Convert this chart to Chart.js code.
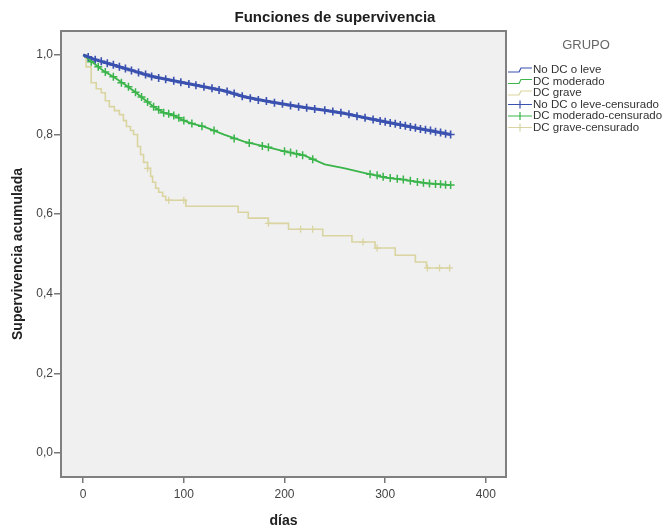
<!DOCTYPE html>
<html lang="es">
<head>
<meta charset="UTF-8">
<title>Funciones de supervivencia</title>
<script src="https://cdn.jsdelivr.net/npm/chart.js"></script>
<style>
  html, body { margin: 0; padding: 0; background: #fff; }
  #marco { width: 668px; height: 531px; position: relative; }
</style>
</head>
<body>
<div id="marco"><canvas id="grafico"></canvas></div>

<script>
// Curvas de Kaplan-Meier (dias, supervivencia acumulada)
const grupos = ['No DC o leve', 'DC moderado', 'DC grave'];

const tiempoLeve = [0, 10, 20, 30, 40, 50, 60, 70, 80, 90, 100, 120, 140, 160, 180, 200, 220, 240, 260, 280, 300, 320, 340, 365];
const survLeve   = [1.0, 0.99, 0.982, 0.975, 0.967, 0.96, 0.952, 0.945, 0.94, 0.935, 0.93, 0.92, 0.91, 0.895, 0.885, 0.876, 0.868, 0.861, 0.853, 0.842, 0.832, 0.822, 0.812, 0.80];

const tiempoModerado = [0, 10, 20, 30, 40, 50, 60, 70, 80, 90, 100, 110, 120, 140, 160, 180, 200, 220, 240, 260, 280, 300, 320, 340, 365];
const survModerado   = [1.0, 0.98, 0.96, 0.945, 0.928, 0.91, 0.89, 0.87, 0.855, 0.848, 0.835, 0.826, 0.82, 0.80, 0.782, 0.77, 0.758, 0.747, 0.725, 0.715, 0.703, 0.692, 0.686, 0.678, 0.673];

const tiempoGrave = [0, 3, 8, 13, 18, 22, 26, 31, 36, 40, 43, 47, 50, 54, 57, 60, 64, 67, 69, 72, 75, 79, 82, 102, 154, 164, 184, 204, 238, 267, 290, 310, 330, 341, 365];
const survGrave   = [1.0, 0.97, 0.93, 0.915, 0.905, 0.885, 0.87, 0.86, 0.85, 0.835, 0.82, 0.81, 0.80, 0.77, 0.75, 0.73, 0.715, 0.695, 0.68, 0.665, 0.655, 0.645, 0.635, 0.62, 0.605, 0.59, 0.577, 0.562, 0.546, 0.53, 0.515, 0.497, 0.48, 0.465, 0.465];

// Casos censurados (+)
const censLeveT = [5, 12, 18, 24, 30, 36, 42, 48, 55, 62, 68, 75, 82, 90, 97, 105, 112, 120, 128, 135, 143, 150, 158, 166, 174, 182, 190, 198, 206, 214, 222, 230, 240, 248, 256, 264, 272, 280, 288, 295, 300, 305, 310, 315, 320, 325, 330, 335, 340, 345, 350, 355, 360, 365];
const censLeveS = [0.995, 0.988, 0.984, 0.979, 0.975, 0.97, 0.966, 0.961, 0.956, 0.951, 0.946, 0.942, 0.939, 0.935, 0.931, 0.927, 0.924, 0.92, 0.916, 0.912, 0.908, 0.903, 0.896, 0.891, 0.887, 0.884, 0.88, 0.877, 0.873, 0.87, 0.867, 0.864, 0.861, 0.858, 0.855, 0.851, 0.846, 0.842, 0.838, 0.834, 0.832, 0.829, 0.827, 0.824, 0.822, 0.819, 0.817, 0.814, 0.812, 0.81, 0.807, 0.805, 0.802, 0.80];

const censModeradoT = [8, 15, 22, 30, 38, 45, 52, 58, 64, 70, 75, 80, 85, 90, 95, 100, 108, 118, 130, 150, 165, 178, 184, 200, 206, 212, 218, 228, 285, 292, 298, 305, 312, 318, 325, 332, 338, 344, 350, 355, 360, 365];
const censModeradoS = [0.983, 0.97, 0.957, 0.945, 0.93, 0.92, 0.906, 0.894, 0.882, 0.87, 0.862, 0.855, 0.852, 0.848, 0.842, 0.835, 0.828, 0.821, 0.81, 0.79, 0.779, 0.771, 0.768, 0.758, 0.755, 0.752, 0.748, 0.738, 0.70, 0.698, 0.694, 0.691, 0.689, 0.687, 0.684, 0.681, 0.679, 0.677, 0.676, 0.675, 0.674, 0.673];

const censGraveT = [64, 85, 100, 184, 216, 228, 278, 292, 342, 354, 364];
const censGraveS = [0.715, 0.635, 0.635, 0.577, 0.562, 0.562, 0.53, 0.515, 0.465, 0.465, 0.465];

const ticksX = [0, 100, 200, 300, 400];
const ticksY = [0, 0.2, 0.4, 0.6, 0.8, 1.0];

const colores = ['#3a51b0', '#3bb54b', '#d9d4a0'];

function puntos(ts, ss) {
    return ts.map(function (t, i) { return { x: t, y: ss[i] }; });
}

const fuente = '"Liberation Sans", Arial, sans-serif';

// fondo gris del area de trazado y marco
const fondoMarco = {
    id: 'fondoMarco',
    beforeDraw(chart) {
        const { ctx, chartArea: a } = chart;
        ctx.save();
        ctx.fillStyle = '#ffffff';
        ctx.fillRect(0, 0, chart.width, chart.height);
        ctx.fillStyle = '#f0f0f0';
        ctx.fillRect(a.left, a.top, a.right - a.left, a.bottom - a.top);
        ctx.restore();
    },
    afterDatasetsDraw(chart) {
        const { ctx, chartArea: a } = chart;
        ctx.save();
        ctx.strokeStyle = '#808080';
        ctx.lineWidth = 2;
        ctx.strokeRect(a.left, a.top, a.right - a.left, a.bottom - a.top);
        ctx.restore();
    }
};

// titulo y leyenda "GRUPO" a la derecha
const tituloLeyenda = {
    id: 'tituloLeyenda',
    afterDraw(chart) {
        const ctx = chart.ctx;
        ctx.save();
        ctx.fillStyle = '#1e1e1e';
        ctx.font = 'bold 15px ' + fuente;
        ctx.textAlign = 'center';
        ctx.textBaseline = 'middle';
        ctx.fillText('Funciones de supervivencia', 335, 18);

        ctx.fillStyle = '#666';
        ctx.font = '13px ' + fuente;
        ctx.fillText('GRUPO', 586, 45);

        ctx.font = '11.5px ' + fuente;
        ctx.textAlign = 'left';
        chart.data.datasets.forEach(function (ds, i) {
            const y = 70 + i * 11.5;
            ctx.strokeStyle = ds.borderColor;
            ctx.lineWidth = 1.2;
            ctx.beginPath();
            if (ds.showLine === false) {
                ctx.moveTo(508, y); ctx.lineTo(532, y);
                ctx.moveTo(520, y - 4); ctx.lineTo(520, y + 4);
            } else {
                ctx.moveTo(508, y + 2); ctx.lineTo(519, y + 2);
                ctx.lineTo(521, y - 2); ctx.lineTo(532, y - 2);
            }
            ctx.stroke();
            ctx.fillStyle = '#333';
            ctx.fillText(ds.label, 533, y);
        });
        ctx.restore();
    }
};

const datasets = [
    { label: grupos[0], data: puntos(tiempoLeve, survLeve), borderColor: colores[0], borderWidth: 3, pointRadius: 0, tension: 0 },
    { label: grupos[1], data: puntos(tiempoModerado, survModerado), borderColor: colores[1], borderWidth: 1.8, pointRadius: 0, tension: 0 },
    { label: grupos[2], data: puntos(tiempoGrave, survGrave), borderColor: colores[2], borderWidth: 1.6, pointRadius: 0, stepped: 'before' },
    { label: grupos[0] + '-censurado', data: puntos(censLeveT, censLeveS), borderColor: colores[0], showLine: false, pointStyle: 'cross', pointRadius: 4, pointBorderWidth: 1.6 },
    { label: grupos[1] + '-censurado', data: puntos(censModeradoT, censModeradoS), borderColor: colores[1], showLine: false, pointStyle: 'cross', pointRadius: 4, pointBorderWidth: 1.5 },
    { label: grupos[2] + '-censurado', data: puntos(censGraveT, censGraveS), borderColor: colores[2], showLine: false, pointStyle: 'cross', pointRadius: 3.5, pointBorderWidth: 1.3 }
];

const config = {
    type: 'line',
    data: { datasets: datasets },
    options: {
        responsive: true,
        maintainAspectRatio: false,
        animation: false,
        devicePixelRatio: 1,
        layout: { padding: { top: 31, right: 162, left: 0, bottom: 0 } },
        plugins: {
            legend: { display: false },
            tooltip: { enabled: false },
            title: { display: false }
        },
        scales: {
            x: {
                type: 'linear',
                min: -22,
                max: 420,
                afterBuildTicks: function (s) { s.ticks = ticksX.map(function (v) { return { value: v }; }); },
                afterFit: function (s) { s.height = 54; },
                grid: { drawOnChartArea: false, drawTicks: true, tickLength: 6, tickColor: '#777', lineWidth: 1.5 },
                border: { display: false },
                ticks: { color: '#444', font: { family: fuente, size: 12 }, padding: 4, maxRotation: 0 },
                title: { display: true, text: 'días', color: '#222', font: { family: fuente, size: 14, weight: 'bold' }, padding: { top: 0, bottom: 1 } }
            },
            y: {
                min: -0.06,
                max: 1.06,
                afterBuildTicks: function (s) { s.ticks = ticksY.map(function (v) { return { value: v }; }); },
                afterFit: function (s) { s.width = 61; },
                grid: { drawOnChartArea: false, drawTicks: true, tickLength: 7, tickColor: '#777', lineWidth: 1.5 },
                border: { display: false },
                ticks: {
                    color: '#444', font: { family: fuente, size: 12 }, padding: 1,
                    callback: function (v) { return v.toFixed(1).replace('.', ','); }
                },
                title: { display: true, text: 'Supervivencia acumulada', color: '#222', font: { family: fuente, size: 14, weight: 'bold' }, padding: { top: 10, bottom: 0 } }
            }
        }
    },
    plugins: [fondoMarco, tituloLeyenda]
};

new Chart(document.getElementById('grafico'), config);
</script>
</body>
</html>
